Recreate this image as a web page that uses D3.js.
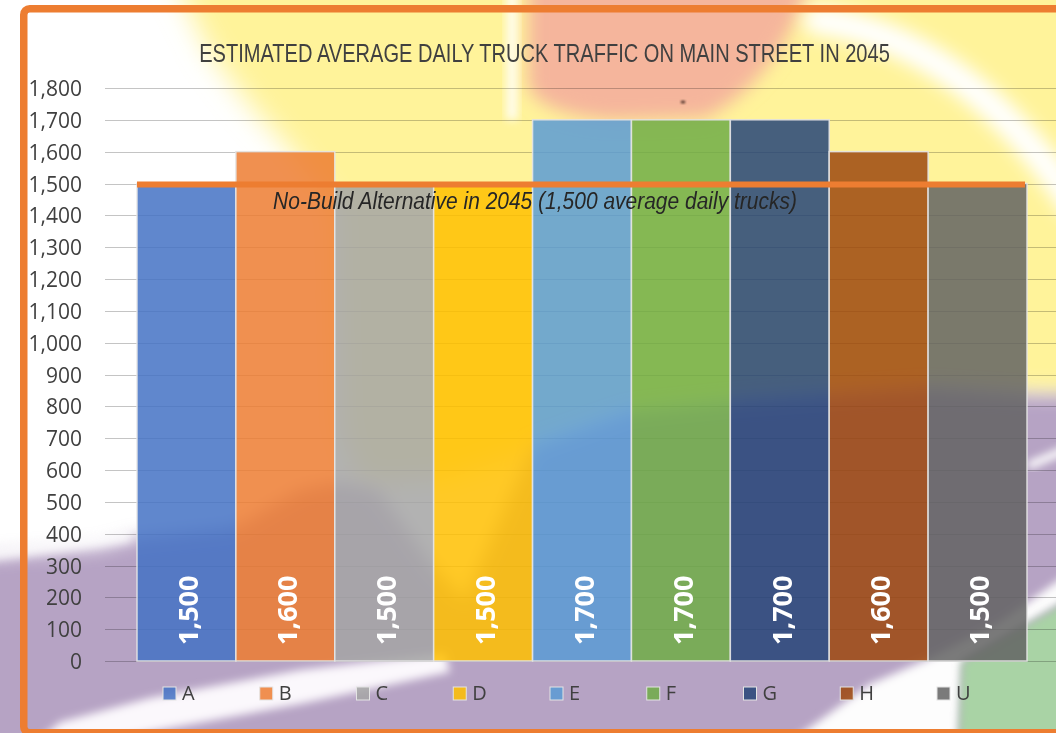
<!DOCTYPE html>
<html>
<head>
<meta charset="utf-8">
<script src="https://cdn.jsdelivr.net/npm/d3@7"></script>
<style>
  html, body { margin: 0; padding: 0; background: #fff; }
  svg { display: block; }
</style>
</head>
<body>
<svg id="chart" width="1056" height="733"></svg>
<script>
// Alternatives and their estimated 2045 daily truck volumes
const categories = ["A", "B", "C", "D", "E", "F", "G", "H", "U"];
const values = [1500, 1600, 1500, 1500, 1700, 1700, 1700, 1600, 1500];
const colors = ["#4472C4", "#ED7D31", "#A5A5A5", "#FFC000", "#5B9BD5", "#70AD47", "#264478", "#9E480E", "#636363"];
const yTicks = [0, 100, 200, 300, 400, 500, 600, 700, 800, 900, 1000, 1100, 1200, 1300, 1400, 1500, 1600, 1700, 1800];
const baselineValue = 1500;
const baselineLabel = "No-Build Alternative in 2045 (1,500 average daily trucks)";
const titleText = "ESTIMATED AVERAGE DAILY TRUCK TRAFFIC ON MAIN STREET IN 2045";

const W = 1056, H = 733;
const svg = d3.select("#chart");
const fmt = d3.format(",");

const defs = svg.append("defs");
[["blurL", 14], ["blurM", 9], ["blurS", 4], ["blurXS", 1.2]].forEach(([id, s]) => {
  defs.append("filter").attr("id", id)
    .attr("x", "-30%").attr("y", "-30%").attr("width", "160%").attr("height", "160%")
    .append("feGaussianBlur").attr("stdDeviation", s);
});

// ---- photographic backdrop (soft coloured shapes) ----
const bg = svg.append("g").attr("class", "backdrop");
bg.append("rect").attr("width", W).attr("height", H).attr("fill", "#ffffff");

// warm yellow wash across the top and right
bg.append("path").attr("filter", "url(#blurL)").attr("fill", "#fff39a")
  .attr("d", "M165,-40 L1100,-40 L1100,400 L930,392 L830,398 L730,405 L630,415 L530,450 L440,480 L360,485 L340,430 L335,210 L295,155 L248,102 L210,52 Z");

// salmon blob at the top centre
bg.append("path").attr("filter", "url(#blurM)").attr("fill", "#f5b59c")
  .attr("d", "M528,-30 L815,-30 C795,35 760,90 705,118 L610,120 C565,116 532,104 528,85 Z");

// pale vertical streak left of the salmon blob
bg.append("rect").attr("filter", "url(#blurS)").attr("fill", "#ffffff")
  .attr("x", 506).attr("y", -10).attr("width", 12).attr("height", 130).attr("opacity", 0.8);

// white arc in the upper right
bg.append("path").attr("filter", "url(#blurM)").attr("fill", "none")
  .attr("stroke", "#ffffff").attr("stroke-width", 30).attr("stroke-linecap", "round")
  .attr("d", "M818,20 Q965,40 1075,205");

// lavender ground across the lower part
bg.append("path").attr("filter", "url(#blurM)").attr("fill", "#b6a3c4")
  .attr("d", "M-30,558 L100,548 L137,538 L235,528 L300,490 L340,482 L378,490 L432,565 L465,600 L500,520 L532,447 L630,412 L730,402 L830,395 L930,388 L1030,395 L1100,395 L1100,780 L-30,780 Z");

// light diagonal streak, bottom left
bg.append("path").attr("filter", "url(#blurS)").attr("fill", "#fbf8fc")
  .attr("d", "M30,748 L60,722 L150,698 L300,670 L445,653 L450,672 L300,704 L150,732 L60,752 Z");

// light band on the far left above the lavender
bg.append("path").attr("filter", "url(#blurS)").attr("fill", "#ffffff").attr("opacity", 0.7)
  .attr("d", "M-20,548 L130,530 L130,542 L-20,562 Z");

// white wedge and green patch, bottom right
bg.append("path").attr("filter", "url(#blurS)").attr("fill", "#fdfdfd")
  .attr("d", "M765,760 L870,684 L930,658 L1000,622 L1070,572 L1070,598 L1000,640 L962,662 L958,760 Z");
bg.append("path").attr("filter", "url(#blurS)").attr("fill", "#a9d3a5")
  .attr("d", "M958,760 L962,662 L1000,640 L1070,600 L1070,760 Z");
bg.append("path").attr("filter", "url(#blurS)").attr("fill", "none")
  .attr("stroke", "#ffffff").attr("stroke-width", 8)
  .attr("d", "M1028,466 L1070,448");

// tiny dark speck
bg.append("ellipse").attr("filter", "url(#blurXS)").attr("fill", "#5a3a30")
  .attr("cx", 683).attr("cy", 102).attr("rx", 2.5).attr("ry", 1.6);

// ---- scales ----
const x = d3.scaleBand().domain(categories).range([137, 1027]).paddingInner(0).paddingOuter(0);
const y = d3.scaleLinear().domain([0, 1800]).range([661, 88]);

// ---- gridlines and value axis ----
const grid = svg.append("g").style("mix-blend-mode", "multiply");
grid.selectAll("line").data(yTicks).join("line")
  .attr("x1", 105).attr("x2", W)
  .attr("y1", d => Math.round(y(d)) + 0.5).attr("y2", d => Math.round(y(d)) + 0.5)
  .attr("stroke", "#c4c4c4").attr("stroke-width", 1);

const yAxis = d3.axisLeft(y).tickValues(yTicks).tickFormat(fmt).tickSize(0).tickPadding(0);
const yG = svg.append("g").attr("transform", "translate(82,0)").call(yAxis);
yG.select(".domain").remove();
yG.selectAll("text")
  .attr("font-family", "'Open Sans', sans-serif").attr("font-size", 21)
  .attr("fill", "#404040").attr("dy", "0.36em");

// ---- bars ----
svg.append("g").selectAll("rect").data(categories).join("rect")
  .attr("x", d => x(d)).attr("width", x.bandwidth())
  .attr("y", (d, i) => y(values[i]))
  .attr("height", (d, i) => y(0) - y(values[i]))
  .attr("fill", (d, i) => colors[i]).attr("fill-opacity", 0.85)
  .attr("stroke", "#e4e4e4").attr("stroke-opacity", 0.9).attr("stroke-width", 1.5);

// value labels inside the base of each bar
svg.append("g").selectAll("text").data(categories).join("text")
  .attr("transform", d => `translate(${x(d) + x.bandwidth() / 2 + 2},${y(0) - 16}) rotate(-90)`)
  .attr("dy", "0.36em")
  .attr("font-family", "'Open Sans', sans-serif").attr("font-weight", 700).attr("font-size", 27)
  .attr("fill", "#ffffff")
  .text((d, i) => fmt(values[i]));

// ---- no-build reference line ----
svg.append("line")
  .attr("x1", x.range()[0]).attr("x2", x.range()[1] - 2)
  .attr("y1", y(baselineValue) + 1).attr("y2", y(baselineValue) + 1)
  .attr("stroke", "#ED7D31").attr("stroke-width", 6);

// narrow text, squeezed horizontally to a target width
function fitText(sel, cx, baseY, targetW) {
  const w = sel.node().getComputedTextLength();
  const k = Math.min(1, targetW / w);
  sel.attr("text-anchor", "middle").attr("x", 0).attr("y", 0)
    .attr("transform", `translate(${cx},${baseY}) scale(${k},1)`);
}

const note = svg.append("text")
  .attr("font-family", "'Liberation Sans Narrow', 'Liberation Sans', sans-serif")
  .attr("font-style", "italic").attr("font-size", 24).attr("fill", "#262626")
  .text(baselineLabel);
fitText(note, 535, 209, 524);

// ---- title ----
const title = svg.append("text")
  .attr("font-family", "'Liberation Sans Narrow', 'Liberation Sans', sans-serif")
  .attr("font-size", 25).attr("fill", "#404040")
  .text(titleText);
fitText(title, 544.5, 62, 691);

// ---- legend ----
const lx = d3.scalePoint().domain(categories).range([163, 937]);
const leg = svg.append("g").selectAll("g").data(categories).join("g")
  .attr("transform", d => `translate(${lx(d)},687)`);
leg.append("rect").attr("width", 13).attr("height", 13)
  .attr("fill", (d, i) => colors[i]).attr("fill-opacity", 0.85)
  .attr("stroke", "#e4e4e4").attr("stroke-width", 1);
leg.append("text").attr("x", 19).attr("y", 13)
  .attr("font-family", "'Open Sans', sans-serif").attr("font-size", 20).attr("fill", "#404040")
  .text(d => d);

// ---- orange frame ----
svg.append("rect")
  .attr("x", 23.75).attr("y", 8.75).attr("width", 1100).attr("height", 724)
  .attr("rx", 6).attr("fill", "none")
  .attr("stroke", "#ED7D31").attr("stroke-width", 7.5);
</script>
</body>
</html>
